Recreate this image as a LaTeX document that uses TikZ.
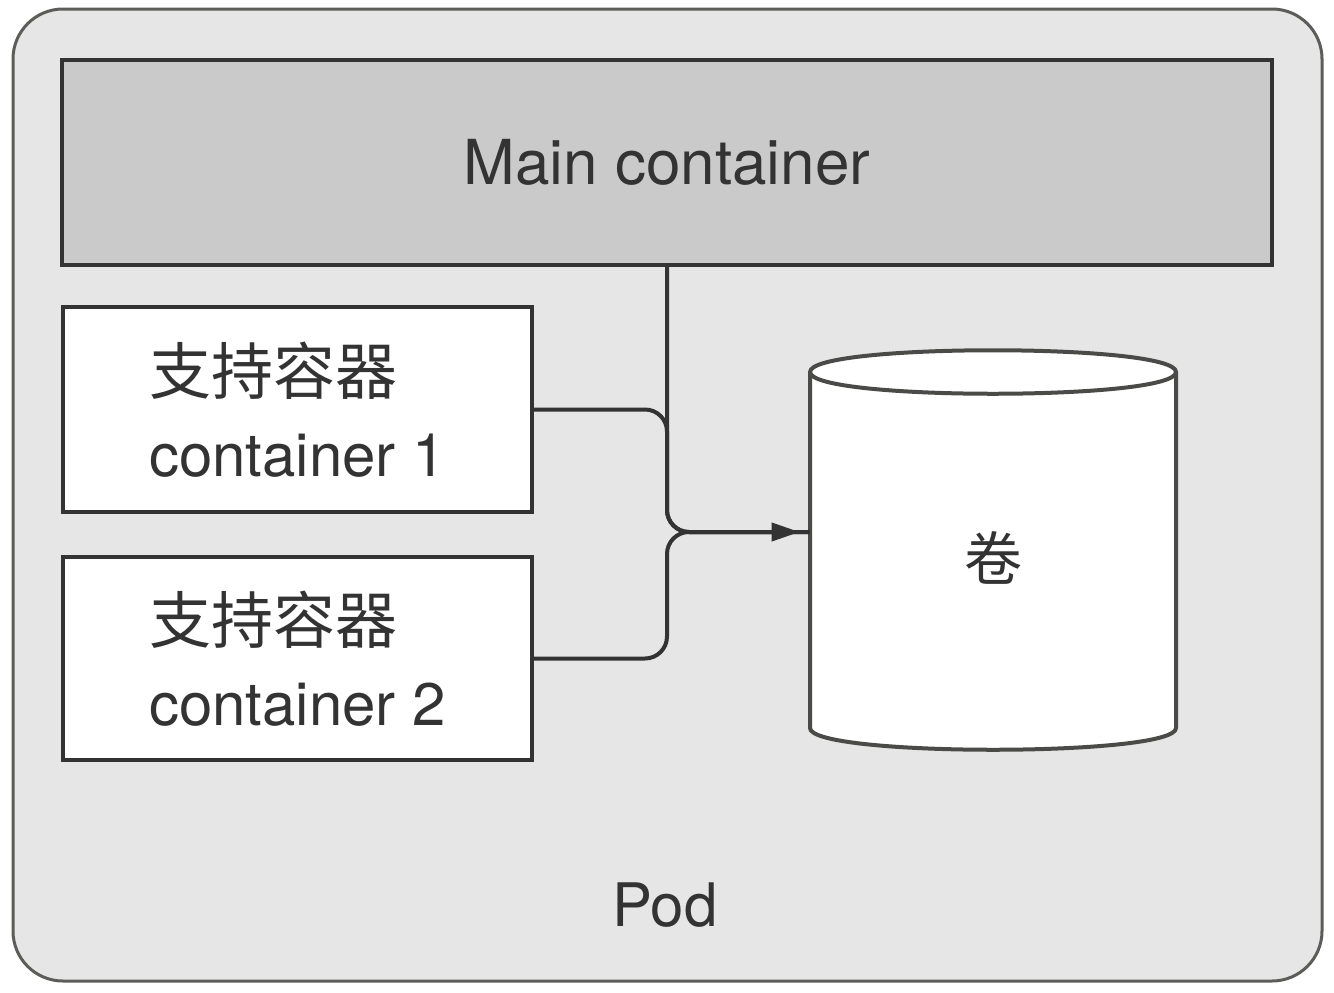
\documentclass[tikz,border=0pt]{standalone}
\usepackage{fontspec}
\setmainfont{TeX Gyre Heros}
\newfontfamily\cjk{Noto Sans CJK SC}
\usetikzlibrary{arrows.meta}
\definecolor{podfill}{HTML}{E6E6E6}
\definecolor{mainfill}{HTML}{CACACA}
\definecolor{ink}{HTML}{333333}
\definecolor{edge}{HTML}{4A4A48}
\tikzset{
  boxstyle/.style={draw=ink, line width=1.8pt, rectangle, inner sep=0pt, text=ink},
  conn/.style={draw=ink, line width=2pt, rounded corners=11pt},
  lbl/.style={font=\fontsize{30}{41}\selectfont, text=ink}
}
\begin{document}
\begin{tikzpicture}[x=0.5pt,y=-0.5pt]
\useasboundingbox (0,0) rectangle (1334,992);
% Pod
\draw[draw=edge!90, line width=1.5pt, fill=podfill, rounded corners=25pt] (13,9) rectangle (1322,981);
\node[lbl] (pod) at (665,905) {Pod};
% Main container
\node[boxstyle, fill=mainfill, minimum width=605pt, minimum height=102.5pt, font=\fontsize{31}{38}\selectfont] (main) at (667,162.5) {Main container};
% Sidecar boxes
\node[boxstyle, fill=white, minimum width=234.5pt, minimum height=102.5pt, align=left, font=\fontsize{30}{41}\selectfont] (b1) at (297.5,409.5) {{\cjk\fontsize{31}{41}\selectfont 支持容器}\\container 1};
\node[boxstyle, fill=white, minimum width=234.5pt, minimum height=101.5pt, align=left, font=\fontsize{30}{41}\selectfont] (b2) at (297.5,658.5) {{\cjk\fontsize{31}{41}\selectfont 支持容器}\\container 2};
% Volume (cylinder)
\draw[draw=edge, line width=2pt, fill=white]
  (810,372) -- (810,728) .. controls (810,757) and (1176,757) .. (1176,728)
  -- (1176,372) .. controls (1176,343) and (810,343) .. (810,372) -- cycle;
\draw[draw=edge, line width=2pt] (810,372) .. controls (810,401) and (1176,401) .. (1176,372);
\node[inner sep=0pt, minimum width=183pt, minimum height=190pt, text=ink, font=\cjk\fontsize{29}{30}\selectfont] (vol) at (993,558) {卷};
% Connectors
\coordinate (j) at (667,532);
\draw[conn] (b1.east) -- (b1.east -| j) -- (j) -- (vol.west |- j);
\draw[conn] (b2.east) -- (b2.east -| j) -- (j) -- (vol.west |- j);
\draw[conn, -{Triangle[length=14pt,width=9pt]}, shorten >=5pt] (main.south) -- (j) -- (vol.west |- j);
\end{tikzpicture}
\end{document}
